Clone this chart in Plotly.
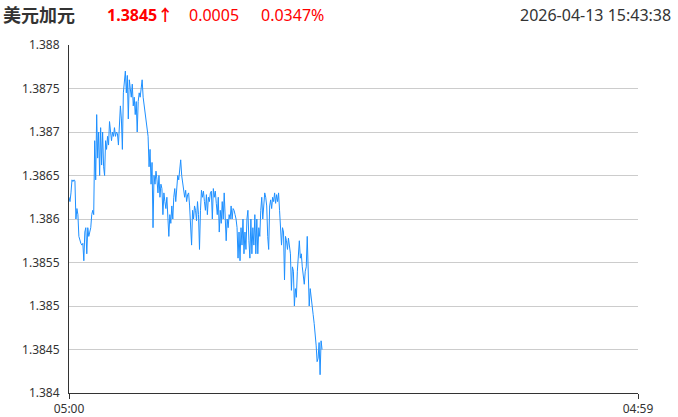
import plotly.graph_objects as go

prices = [
    1.38625, 1.38620, 1.38630, 1.38645, 1.38643, 1.38645, 1.38644, 1.38600, 1.38612, 1.38605,
    1.38580, 1.38575, 1.38572, 1.38570, 1.38572, 1.38552, 1.38585, 1.38590, 1.38560, 1.38590,
    1.38580, 1.38585, 1.38590, 1.38605, 1.38610, 1.38605, 1.38690, 1.38645, 1.38720, 1.38670,
    1.38700, 1.38650, 1.38705, 1.38662, 1.38700, 1.38660, 1.38650, 1.38690, 1.38680, 1.38695,
    1.38685, 1.38712, 1.38700, 1.38690, 1.38700, 1.38695, 1.38705, 1.38695, 1.38700, 1.38698,
    1.38685, 1.38720, 1.38730, 1.38715, 1.38680, 1.38745, 1.38760, 1.38770, 1.38745, 1.38765,
    1.38715, 1.38760, 1.38750, 1.38740, 1.38755, 1.38730, 1.38740, 1.38720, 1.38735, 1.38700,
    1.38735, 1.38745, 1.38740, 1.38755, 1.38760, 1.38740, 1.38730, 1.38720, 1.38715, 1.38700,
    1.38695, 1.38660, 1.38680, 1.38640, 1.38665, 1.38590, 1.38650, 1.38640, 1.38655, 1.38645,
    1.38630, 1.38650, 1.38625, 1.38640, 1.38635, 1.38605, 1.38630, 1.38620, 1.38612, 1.38625,
    1.38600, 1.38580, 1.38605, 1.38595, 1.38615, 1.38600, 1.38625, 1.38635, 1.38620, 1.38640,
    1.38650, 1.38645, 1.38660, 1.38668, 1.38650, 1.38640, 1.38630, 1.38625, 1.38633, 1.38620,
    1.38628, 1.38630, 1.38615, 1.38595, 1.38570, 1.38610, 1.38600, 1.38615, 1.38610, 1.38598,
    1.38620, 1.38605, 1.38565, 1.38610, 1.38633, 1.38625, 1.38632, 1.38620, 1.38610, 1.38628,
    1.38605, 1.38625, 1.38620, 1.38630, 1.38632, 1.38600, 1.38635, 1.38625, 1.38632, 1.38618,
    1.38605, 1.38625, 1.38585, 1.38610, 1.38595, 1.38620, 1.38600, 1.38630, 1.38610, 1.38575,
    1.38600, 1.38590, 1.38605, 1.38600, 1.38615, 1.38600, 1.38612, 1.38610, 1.38605, 1.38600,
    1.38590, 1.38555, 1.38585, 1.38552, 1.38590, 1.38570, 1.38600, 1.38560, 1.38585, 1.38565,
    1.38600, 1.38610, 1.38575, 1.38555, 1.38600, 1.38560, 1.38590, 1.38570, 1.38605, 1.38560,
    1.38600, 1.38560, 1.38590, 1.38580, 1.38610, 1.38625, 1.38600, 1.38620, 1.38630, 1.38625,
    1.38615, 1.38580, 1.38565, 1.38615, 1.38622, 1.38612, 1.38625, 1.38620, 1.38630, 1.38618,
    1.38628, 1.38620, 1.38630, 1.38610, 1.38590, 1.38570, 1.38590, 1.38585, 1.38530, 1.38580,
    1.38575, 1.38565, 1.38578, 1.38570, 1.38560, 1.38518, 1.38545, 1.38540, 1.38500, 1.38520,
    1.38510, 1.38540, 1.38560, 1.38575, 1.38555, 1.38560, 1.38545, 1.38535, 1.38525, 1.38540,
    1.38545, 1.38580, 1.38540, 1.38500, 1.38520, 1.38512, 1.38500, 1.38490, 1.38480, 1.38470,
    1.38455, 1.38436, 1.38440, 1.38458, 1.38421, 1.38460, 1.38450,
]
minute_step = 2.5
minutes = [i * minute_step for i in range(len(prices))]

y_ticks = [1.384, 1.3845, 1.385, 1.3855, 1.386, 1.3865, 1.387, 1.3875, 1.388]
y_labels = ["1.384", "1.3845", "1.385", "1.3855", "1.386", "1.3865", "1.387", "1.3875", "1.388"]
x_ticks = [0, 1439]
x_labels = ["05:00", "04:59"]

title = "美元加元"
last_price = "1.3845↑"
change = "0.0005"
change_pct = "0.0347%"
timestamp = "2026-04-13 15:43:38"

FONT = "Noto Sans, Noto Sans CJK SC, sans-serif"

fig = go.Figure()
fig.add_trace(go.Scatter(
    x=minutes, y=prices, mode="lines",
    line=dict(color="#1e90ff", width=1),
    hoverinfo="skip", showlegend=False,
))

FIG_W, FIG_H = 678, 417
L, T, W, H = 69, 45, 569, 348  # plot area in page pixels

def px(xp):
    return (xp - L) / W

def py(yp):
    return 1 - (yp - T) / H

ann = [
    dict(text="<b>" + title + "</b>", x=px(1), xanchor="left", color="#333333", size=18),
    dict(text="<b>" + last_price + "</b>", x=px(105), xanchor="left", color="#ff0000", size=16),
    dict(text=change, x=px(187), xanchor="left", color="#ff0000", size=16),
    dict(text=change_pct, x=px(259), xanchor="left", color="#ff0000", size=16),
    dict(text=timestamp, x=px(673), xanchor="right", color="#333333", size=16),
]
annotations = [
    dict(text=a["text"], x=a["x"], y=py(15), xref="paper", yref="paper",
         xanchor=a["xanchor"], yanchor="middle", showarrow=False,
         font=dict(family=FONT, size=a["size"], color=a["color"]))
    for a in ann
]

fig.update_layout(
    width=FIG_W, height=FIG_H,
    margin=dict(l=L, r=FIG_W - L - W, t=T, b=FIG_H - T - H),
    plot_bgcolor="white", paper_bgcolor="white",
    font=dict(family=FONT, size=12, color="#333333"),
    annotations=annotations,
    xaxis=dict(
        range=[0, 1439], tickvals=x_ticks, ticktext=x_labels,
        showgrid=False, zeroline=False, automargin=False,
        showline=True, linecolor="#333333", linewidth=1,
        ticks="outside", ticklen=5, tickcolor="#333333",
        tickfont=dict(size=12, color="#333333"),
    ),
    yaxis=dict(
        range=[1.384, 1.388], tickvals=y_ticks, ticktext=y_labels,
        showgrid=True, gridcolor="#cccccc", gridwidth=1, zeroline=False,
        automargin=False,
        showline=True, linecolor="#333333", linewidth=1,
        ticks="", ticklabelstandoff=6,
        tickfont=dict(size=12, color="#333333"),
    ),
)

fig.write_html(
    "out.html",
    config={"displayModeBar": False},
    post_script="document.body.style.margin='0';document.body.style.overflow='hidden';",
)
